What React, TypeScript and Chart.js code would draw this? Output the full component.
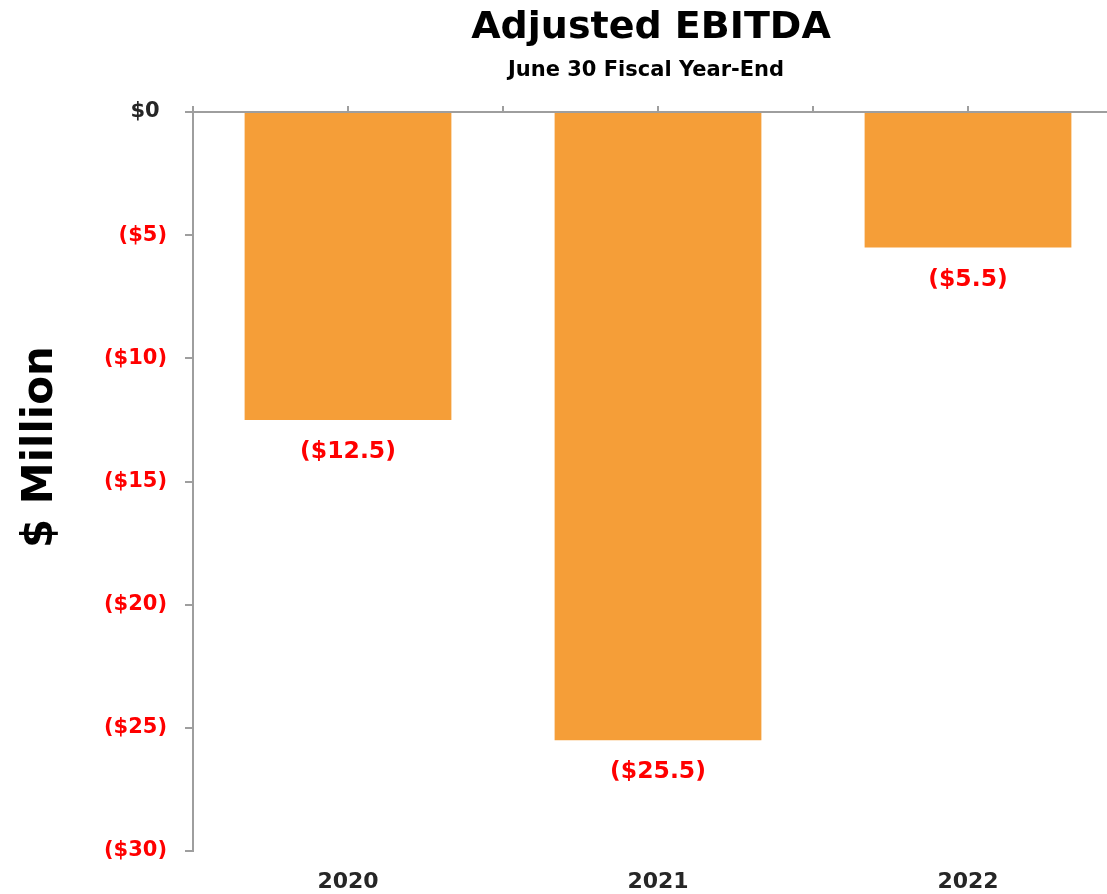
import React, { useEffect, useRef } from 'react';
import { Chart, registerables } from 'chart.js';

Chart.register(...registerables);

const categories = ['2020', '2021', '2022'];
const ebitda = [-12.5, -25.5, -5.5];
const yMin = -30;
const yMax = 0;
const yStep = 5;
const topTickMax = 6;

const titleText = 'Adjusted EBITDA';
const subtitleText = 'June 30 Fiscal Year-End';
const yTitleText = '$ Million';

const FONT = "'DejaVu Sans', sans-serif";
const AXIS_COLOR = '#9E9E9E';
const RED = '#FF0000';
const DARK = '#262626';
const BAR = '#F59E38';

function money(v: number, dec = 0): string {
  if (v === 0) return '$0 ';
  const s = Math.abs(v).toFixed(dec);
  return v < 0 ? `($${s})` : `$${s}`;
}

const barLabels = {
  id: 'barLabels',
  afterDatasetsDraw(chart: any) {
    const ctx = chart.ctx;
    const meta = chart.getDatasetMeta(0);
    const data = chart.data.datasets[0].data as number[];
    ctx.save();
    ctx.font = `bold 23.5px ${FONT}`;
    ctx.fillStyle = RED;
    ctx.textAlign = 'center';
    ctx.textBaseline = 'middle';
    meta.data.forEach((bar: any, i: number) => {
      ctx.fillText(money(data[i], 1), bar.x, bar.y + 32);
    });
    ctx.restore();
  },
};

const headings = {
  id: 'headings',
  afterDraw(chart: any) {
    const ctx = chart.ctx;
    const area = chart.chartArea;
    const cx = (area.left + area.right) / 2;
    ctx.save();
    ctx.fillStyle = '#000000';
    ctx.textAlign = 'center';
    ctx.textBaseline = 'middle';
    ctx.font = `bold 38px ${FONT}`;
    ctx.fillText(titleText, cx - 7, 28);
    ctx.font = `bold 21px ${FONT}`;
    ctx.fillText(subtitleText, cx - 12, 71);
    ctx.translate(41, chart.height / 2);
    ctx.rotate(-Math.PI / 2);
    ctx.font = `bold 42px ${FONT}`;
    ctx.fillText(yTitleText, 0, 0);
    ctx.restore();
  },
};

export default function App() {
  const ref = useRef<HTMLCanvasElement | null>(null);

  useEffect(() => {
    if (!ref.current) return;
    const chart = new Chart(ref.current, {
      type: 'bar',
      data: {
        labels: categories,
        datasets: [
          {
            data: ebitda,
            backgroundColor: BAR,
            borderWidth: 0,
            categoryPercentage: 1,
            barPercentage: 0.667,
            xAxisID: 'x',
            yAxisID: 'y',
          },
        ],
      },
      options: {
        animation: false,
        responsive: true,
        maintainAspectRatio: false,
        layout: { padding: { left: 0, right: 3, top: 106, bottom: 1 } },
        plugins: {
          legend: { display: false },
          tooltip: { enabled: false },
          title: { display: false },
        },
        scales: {
          x: {
            type: 'category',
            position: 'bottom',
            grid: { display: false, drawTicks: false },
            border: { display: false },
            ticks: {
              color: DARK,
              font: { family: FONT, size: 22, weight: 'bold' },
              padding: 18,
              maxRotation: 0,
            },
            afterFit: (s: any) => {
              s.height = 42;
            },
          },
          xTop: {
            type: 'linear',
            position: 'top',
            min: 0,
            max: topTickMax,
            offset: false,
            z: 1,
            ticks: { display: false, stepSize: 1 },
            grid: {
              display: true,
              offset: false,
              drawOnChartArea: false,
              drawTicks: true,
              tickLength: 6,
              color: AXIS_COLOR,
              lineWidth: 2,
            },
            border: { display: true, color: AXIS_COLOR, width: 2 },
          },
          y: {
            min: yMin,
            max: yMax,
            ticks: {
              stepSize: yStep,
              callback: (v: any) => money(Number(v)),
              color: (c: any) => (c.tick && c.tick.value === 0 ? DARK : RED),
              font: { family: FONT, size: 21, weight: 'bold' },
              padding: 18,
            },
            grid: {
              drawOnChartArea: false,
              drawTicks: true,
              tickLength: 8,
              color: AXIS_COLOR,
              lineWidth: 2,
            },
            border: { display: true, color: AXIS_COLOR, width: 2 },
            afterFit: (s: any) => {
              s.width = 193;
            },
          },
        },
      },
      plugins: [barLabels, headings],
    });
    return () => chart.destroy();
  }, []);

  return (
    <div
      style={{
        position: 'fixed',
        left: 0,
        top: 0,
        width: 1107,
        height: 894,
        overflow: 'hidden',
        background: '#FFFFFF',
      }}
    >
      <div style={{ position: 'absolute', left: 0, top: 0, width: 1126, height: 894 }}>
        <canvas ref={ref} />
      </div>
    </div>
  );
}
